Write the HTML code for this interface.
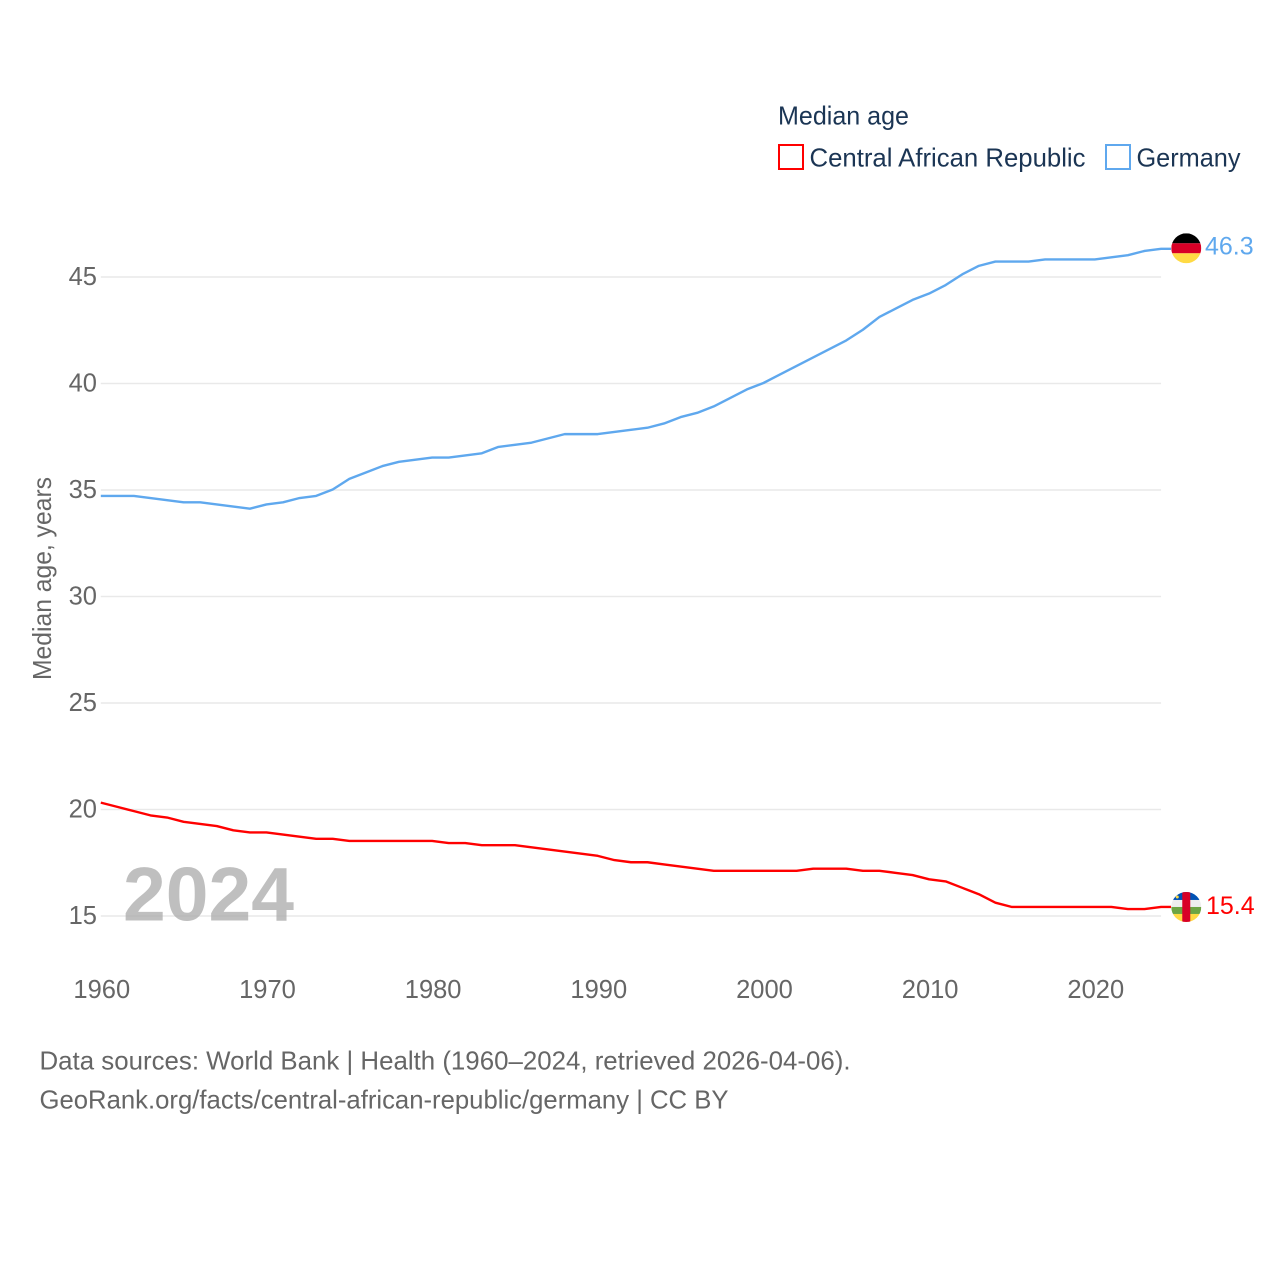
<!DOCTYPE html>
<html lang="en">
<head>
<meta charset="utf-8">
<title>Median age: Central African Republic and Germany</title>
<style>
html,body{margin:0;padding:0;background:#fff}
svg{display:block}
text{font-family:"Liberation Sans",sans-serif}
.tick{font-size:25.5px;fill:#666}
.foot{font-size:26px;fill:#666}
.leg{font-size:26px;fill:#1b3554}
</style>
</head>
<body>
<svg id="chart" xmlns="http://www.w3.org/2000/svg" width="1280" height="1280" viewBox="0 0 1280 1280">
  <defs>
    <clipPath id="de-clip"><circle id="de-clip-c" r="15"></circle></clipPath>
    <clipPath id="cf-clip"><circle id="cf-clip-c" r="15"></circle></clipPath>
  </defs>
  <g id="grid"></g>
  <text x="123" y="920.5" font-size="76" font-weight="700" fill="#a9a9a9" fill-opacity="0.75" textLength="171" lengthAdjust="spacingAndGlyphs">2024</text>
  <g id="ylabels"></g>
  <g id="xlabels"></g>
  <text transform="translate(51,680) rotate(-90)" font-size="26" fill="#666" textLength="203" lengthAdjust="spacingAndGlyphs">Median age, years</text>
  <g id="series"></g>
  <g id="flags"></g>

  <text class="leg" x="778" y="124.5" textLength="131" lengthAdjust="spacingAndGlyphs">Median age</text>
  <g>
    <rect x="779" y="145" width="24" height="24" fill="#fff" stroke="#ff0000" stroke-width="2"></rect>
    <text class="leg" x="809.5" y="166.5" textLength="276" lengthAdjust="spacingAndGlyphs">Central African Republic</text>
  </g>
  <g>
    <rect x="1106" y="145" width="24" height="24" fill="#fff" stroke="#5fa8ee" stroke-width="2"></rect>
    <text class="leg" x="1136.5" y="166.5" textLength="104" lengthAdjust="spacingAndGlyphs">Germany</text>
  </g>

  <text class="foot" x="39.5" y="1069.5" textLength="811" lengthAdjust="spacingAndGlyphs">Data sources: World Bank | Health (1960–2024, retrieved 2026-04-06).</text>
  <text class="foot" x="39.5" y="1108.5" textLength="689" lengthAdjust="spacingAndGlyphs">GeoRank.org/facts/central-african-republic/germany | CC BY</text>
</svg>
<script>
const startYear = 1960;
const xTicks = [1960, 1970, 1980, 1990, 2000, 2010, 2020];
const yTicks = [15, 20, 25, 30, 35, 40, 45];
const germany = [34.7,34.7,34.7,34.6,34.5,34.4,34.4,34.3,34.2,34.1,34.3,34.4,34.6,34.7,35.0,35.5,35.8,36.1,36.3,36.4,36.5,36.5,36.6,36.7,37.0,37.1,37.2,37.4,37.6,37.6,37.6,37.7,37.8,37.9,38.1,38.4,38.6,38.9,39.3,39.7,40.0,40.4,40.8,41.2,41.6,42.0,42.5,43.1,43.5,43.9,44.2,44.6,45.1,45.5,45.7,45.7,45.7,45.8,45.8,45.8,45.8,45.9,46.0,46.2,46.3];
const car = [20.3,20.1,19.9,19.7,19.6,19.4,19.3,19.2,19.0,18.9,18.9,18.8,18.7,18.6,18.6,18.5,18.5,18.5,18.5,18.5,18.5,18.4,18.4,18.3,18.3,18.3,18.2,18.1,18.0,17.9,17.8,17.6,17.5,17.5,17.4,17.3,17.2,17.1,17.1,17.1,17.1,17.1,17.1,17.2,17.2,17.2,17.1,17.1,17.0,16.9,16.7,16.6,16.3,16.0,15.6,15.4,15.4,15.4,15.4,15.4,15.4,15.4,15.3,15.3,15.4];

const NS = 'http://www.w3.org/2000/svg';
function xScale(year) { return 100.8 + (year - 1960) * (1096 - 102) / 60; }
function yScale(v) { return 916 - (v - 15) * (916 - 277) / 30; }
function make(tag, attrs, parent, txt) {
  const el = document.createElementNS(NS, tag);
  for (const k in attrs) el.setAttribute(k, attrs[k]);
  if (txt !== undefined) el.textContent = txt;
  parent.appendChild(el);
  return el;
}

const grid = document.getElementById('grid');
const ylabels = document.getElementById('ylabels');
const xlabels = document.getElementById('xlabels');
const seriesG = document.getElementById('series');
const flags = document.getElementById('flags');

yTicks.forEach(function (t) {
  const line = make('line', {x1: xScale(1960), x2: xScale(2024), y1: yScale(t), y2: yScale(t), stroke: '#e9e9e9', 'stroke-width': 1.5}, grid);
  
  
  const lab = make('text', {x: 97, y: yScale(t) + 8, 'text-anchor': 'end', 'class': 'tick'}, ylabels, String(t));
  
  
});

xTicks.forEach(function (t) {
  const lab = make('text', {x: xScale(t) + 1, y: 998, 'text-anchor': 'middle', 'class': 'tick'}, xlabels, String(t));
  
  
});

function drawSeries(values, color, key) {
  const pts = values.map(function (v, i) { return xScale(startYear + i) + ',' + (yScale(v) - 0.5); });
  const last = values[values.length - 1];
  pts.push((xScale(startYear + values.length - 1) + 10) + ',' + (yScale(last) - 0.5));
  const line = make('polyline', {points: pts.join(' '), fill: 'none', stroke: color, 'stroke-width': 2.4, 'stroke-linejoin': 'round'}, seriesG);
  
  
}
drawSeries(car, '#ff0000', 'central-african-republic');
drawSeries(germany, '#5fa8ee', 'germany');

const flagX = xScale(2024) + 25.2;
const deY = yScale(germany[germany.length - 1]) - 1;
const cfY = yScale(car[car.length - 1]) - 0.5;
document.getElementById('de-clip-c').setAttribute('cx', flagX);
document.getElementById('de-clip-c').setAttribute('cy', deY);
document.getElementById('cf-clip-c').setAttribute('cx', flagX);
document.getElementById('cf-clip-c').setAttribute('cy', cfY);

const deFlag = make('g', {'clip-path': 'url(#de-clip)'}, flags);


make('rect', {x: flagX - 15, y: deY - 15, width: 30, height: 10, fill: '#000'}, deFlag);
make('rect', {x: flagX - 15, y: deY - 5, width: 30, height: 10, fill: '#d80027'}, deFlag);
make('rect', {x: flagX - 15, y: deY + 5, width: 30, height: 10, fill: '#ffda44'}, deFlag);

const cfFlag = make('g', {'clip-path': 'url(#cf-clip)'}, flags);


make('rect', {x: flagX - 15, y: cfY - 15, width: 30, height: 8, fill: '#0052b4'}, cfFlag);
make('rect', {x: flagX - 15, y: cfY - 7, width: 30, height: 7, fill: '#eeeeee'}, cfFlag);
make('rect', {x: flagX - 15, y: cfY, width: 30, height: 7, fill: '#6da544'}, cfFlag);
make('rect', {x: flagX - 15, y: cfY + 7, width: 30, height: 8, fill: '#ffda44'}, cfFlag);
make('rect', {x: flagX - 4, y: cfY - 15, width: 8, height: 30, fill: '#d80027'}, cfFlag);
make('circle', {cx: flagX - 9, cy: cfY - 10, r: 1.5, fill: '#ffda44'}, cfFlag);

const deVal = make('text', {x: 1205, y: yScale(germany[germany.length - 1]) + 5, 'font-size': 25, fill: '#5fa8ee'}, flags, germany[germany.length - 1].toFixed(1));


const cfVal = make('text', {x: 1206, y: yScale(car[car.length - 1]) + 6.5, 'font-size': 25, fill: '#ff0000'}, flags, car[car.length - 1].toFixed(1));


</script>
</body>
</html>
